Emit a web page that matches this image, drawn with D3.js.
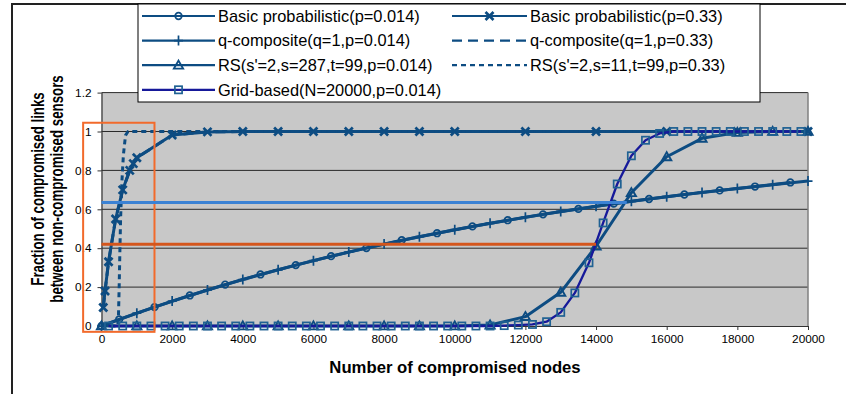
<!DOCTYPE html>
<html>
<head>
<meta charset="utf-8">
<script src="https://cdn.jsdelivr.net/npm/d3@7"></script>
<style>
  body { margin: 0; background: #fff; }
  svg { display: block; font-family: "Liberation Sans", Arial, sans-serif; }
</style>
</head>
<body>
<svg width="846" height="394"></svg>
<script>
// ---- data ----
const xTicks = [0, 2000, 4000, 6000, 8000, 10000, 12000, 14000, 16000, 18000, 20000];
const yTicks = [0, 0.2, 0.4, 0.6, 0.8, 1, 1.2];

// Basic probabilistic (p=0.014), circles
const basicLowX = [0, 500, 1500, 2500, 3500, 4500, 5500, 6500, 7500, 8500, 9500,
    10500, 11500, 12500, 13500, 14500, 15500, 16500, 17500, 18500, 19500];
const basicLowY = [0, 0.034, 0.097, 0.157, 0.213, 0.265, 0.313, 0.359, 0.401, 0.441, 0.477,
    0.512, 0.544, 0.574, 0.602, 0.629, 0.653, 0.676, 0.697, 0.717, 0.738];

// Basic probabilistic (p=0.33), crosses
const basicHighX = [50, 100, 200, 400, 600, 800, 900, 1000, 2000, 3000, 4000, 5000,
    6000, 7000, 8000, 9000, 10000, 12000, 14000, 16000, 18000, 20000];
const basicHighY = [0.095, 0.18, 0.33, 0.55, 0.7, 0.8, 0.835, 0.865, 0.982, 0.998, 1, 1,
    1, 1, 1, 1, 1, 1, 1, 1, 1, 1];

// q-composite (q=1, p=0.014), plus signs
const qLowX = [0, 1000, 2000, 3000, 4000, 5000, 6000, 7000, 8000, 9000, 10000,
    11000, 12000, 13000, 14000, 15000, 16000, 17000, 18000, 19000, 20000];
const qLowY = [0, 0.066, 0.128, 0.185, 0.239, 0.289, 0.336, 0.38, 0.421, 0.459, 0.495,
    0.528, 0.559, 0.589, 0.616, 0.641, 0.665, 0.687, 0.707, 0.726, 0.745];

// q-composite (q=1, p=0.33), long dashes, lies under the p=0.33 basic curve
const qHighX = [50, 100, 200, 400, 600, 800, 900, 1000, 2000, 3000, 4000, 10000, 20000];
const qHighY = [0.095, 0.18, 0.33, 0.55, 0.7, 0.8, 0.835, 0.865, 0.982, 0.998, 1, 1, 1];

// RS (s'=2, s=287, t=99, p=0.014), triangles
const rsLowX = [0, 1000, 2000, 3000, 4000, 5000, 6000, 7000, 8000, 9000, 10000,
    11000, 12000, 13000, 14000, 15000, 16000, 17000, 18000, 19000, 20000];
const rsLowY = [0, 0, 0, 0, 0, 0, 0, 0, 0, 0, 0,
    0.005, 0.048, 0.173, 0.41, 0.685, 0.87, 0.965, 0.995, 1, 1];

// RS (s'=2, s=11, t=99, p=0.33), short dashes
const rsHighX = [0, 200, 400, 460, 480, 500, 520, 540, 580, 620, 680, 750, 1000, 2000, 5000, 10000, 15000, 20000];
const rsHighY = [0, 0, 0, 0, 0.05, 0.2, 0.38, 0.55, 0.75, 0.88, 0.98, 1, 1, 1, 1, 1, 1, 1];

// Grid-based (N=20000, p=0.014), squares
const gridX = [200, 600, 1000, 1400, 1800, 2200, 2600, 3000, 3400, 3800, 4200, 4600, 5000,
    5400, 5800, 6200, 6600, 7000, 7400, 7800, 8200, 8600, 9000, 9400, 9800, 10200, 10600,
    11000, 11400, 11800, 12200, 12600, 13000, 13400, 13800, 14200, 14600, 15000, 15400,
    15800, 16200, 16600, 17000, 17400, 17800, 18200, 18600, 19000, 19400, 19800];
const gridY = [0, 0, 0, 0, 0, 0, 0, 0, 0, 0, 0, 0, 0,
    0, 0, 0, 0, 0, 0, 0, 0, 0, 0, 0, 0, 0, 0,
    0, 0.002, 0.005, 0.008, 0.022, 0.07, 0.17, 0.325, 0.53, 0.73, 0.875, 0.955,
    0.99, 1, 1, 1, 1, 1, 1, 1, 1, 1, 1];

// annotations drawn over the chart (data units)
const boxX = [-520, 1500];
const boxY = [-0.03, 1.045];
const orangeLine = [0, 14000, 0.42];
const blueLine = [0, 14870, 0.635];

// ---- layout ----
const plot = { left: 101.5, right: 808, top: 92.6, bottom: 326 };
const lineColor = "#0d4c82";
const gridColor = "#16199a";

const x = d3.scaleLinear().domain([0, 20000]).range([plot.left, plot.right]);
const y = d3.scaleLinear().domain([0, 1.2]).range([plot.bottom, plot.top]);

const series = [
    { name: "Basic probabilistic(p=0.014)", xs: basicLowX, ys: basicLowY, marker: "circle", dash: null, col: 0, row: 0 },
    { name: "Basic probabilistic(p=0.33)", xs: basicHighX, ys: basicHighY, marker: "x", dash: null, col: 1, row: 0 },
    { name: "q-composite(q=1,p=0.014)", xs: qLowX, ys: qLowY, marker: "plus", dash: null, col: 0, row: 1 },
    { name: "q-composite(q=1,p=0.33)", xs: qHighX, ys: qHighY, marker: null, dash: "10,6", col: 1, row: 1 },
    { name: "RS(s'=2,s=287,t=99,p=0.014)", xs: rsLowX, ys: rsLowY, marker: "triangle", dash: null, col: 0, row: 2 },
    { name: "RS(s'=2,s=11,t=99,p=0.33)", xs: rsHighX, ys: rsHighY, marker: null, dash: "5,4", col: 1, row: 2 },
    { name: "Grid-based(N=20000,p=0.014)", xs: gridX, ys: gridY, marker: "square", dash: null, col: 0, row: 3, grid: true },
];

const svg = d3.select("svg");

// plot area
svg.append("rect")
    .attr("x", plot.left).attr("y", plot.top)
    .attr("width", plot.right - plot.left).attr("height", plot.bottom - plot.top)
    .attr("fill", "#c8c8c8");

// horizontal gridlines
svg.append("g")
    .selectAll("line")
    .data(yTicks.filter((d) => d > 0))
    .join("line")
    .attr("x1", plot.left).attr("x2", plot.right)
    .attr("y1", (d) => y(d)).attr("y2", (d) => y(d))
    .attr("stroke", "#2a2a2a").attr("stroke-width", 1);

svg.append("line")
    .attr("x1", plot.right).attr("x2", plot.right)
    .attr("y1", plot.top).attr("y2", plot.bottom)
    .attr("stroke", "#808080").attr("stroke-width", 1.5);

// axes
const xAxis = svg.append("g")
    .attr("transform", `translate(0, ${plot.bottom})`)
    .call(d3.axisBottom(x).tickValues(xTicks).tickSize(4).tickSizeOuter(0).tickPadding(5).tickFormat(d3.format("d")));
const yAxis = svg.append("g")
    .attr("transform", `translate(${plot.left}, 0)`)
    .call(d3.axisLeft(y).tickValues(yTicks).tickSize(4).tickSizeOuter(0).tickPadding(6).tickFormat((d) => String(d)));

[xAxis, yAxis].forEach((a) => {
    a.selectAll("path").attr("stroke", "#333").attr("stroke-width", 1.2);
    a.selectAll("line").attr("stroke", "#333");
    a.selectAll("text").attr("fill", "#000").style("font-size", "11.8px")
        .style("font-family", "\"Liberation Sans\", Arial, sans-serif");
});

// marker shapes
function drawMarker(sel, type, color) {
    if (type === "circle") {
        sel.append("circle").attr("r", 3.3)
            .attr("fill", "none").attr("stroke", color).attr("stroke-width", 1.7);
    } else if (type === "square") {
        sel.append("rect").attr("x", -3.6).attr("y", -3.6).attr("width", 7.2).attr("height", 7.2)
            .attr("fill", "none").attr("stroke", color).attr("stroke-width", 1.7);
    } else if (type === "triangle") {
        sel.append("path").attr("d", "M0,-4.6L4.6,3.4L-4.6,3.4Z")
            .attr("fill", "none").attr("stroke", color).attr("stroke-width", 1.9);
    } else if (type === "x") {
        sel.append("path").attr("d", "M-4,-4L4,4M-4,4L4,-4")
            .attr("fill", "none").attr("stroke", color).attr("stroke-width", 2.7);
    } else if (type === "plus") {
        sel.append("path").attr("d", "M-4.5,0H4.5M0,-5V5")
            .attr("fill", "none").attr("stroke", color).attr("stroke-width", 1.7);
    }
}

// series lines
const line = d3.line().x((d) => x(d[0])).y((d) => y(d[1]));
series.forEach((s) => {
    const pts = s.xs.map((v, i) => [v, s.ys[i]]);
    svg.append("path")
        .datum(pts)
        .attr("d", line)
        .attr("fill", "none")
        .attr("stroke", s.grid ? gridColor : lineColor)
        .attr("stroke-width", s.grid ? 2.3 : 3)
        .attr("stroke-linejoin", "round")
        .attr("stroke-dasharray", s.dash);
    if (s.marker) {
        svg.append("g")
            .selectAll("g")
            .data(pts)
            .join("g")
            .attr("transform", (d) => `translate(${x(d[0])},${y(d[1])})`)
            .each(function () {
                drawMarker(d3.select(this), s.marker, s.grid ? "#1f6193" : lineColor);
            });
    }
});

// annotations
svg.append("rect")
    .attr("x", x(boxX[0])).attr("y", y(boxY[1]))
    .attr("width", x(boxX[1]) - x(boxX[0])).attr("height", y(boxY[0]) - y(boxY[1]))
    .attr("fill", "none").attr("stroke", "#f26a2b").attr("stroke-width", 2);
svg.append("line")
    .attr("x1", x(orangeLine[0])).attr("x2", x(orangeLine[1]))
    .attr("y1", y(orangeLine[2])).attr("y2", y(orangeLine[2]))
    .attr("stroke", "#d5561c").attr("stroke-width", 3);
svg.append("line")
    .attr("x1", x(blueLine[0])).attr("x2", x(blueLine[1]))
    .attr("y1", y(blueLine[2])).attr("y2", y(blueLine[2]))
    .attr("stroke", "#3b82d4").attr("stroke-width", 3);

// axis titles
svg.append("text")
    .attr("x", 455).attr("y", 373)
    .attr("text-anchor", "middle")
    .style("font-size", "16.7px").style("font-weight", "bold")
    .text("Number of compromised nodes");
const yTitle = svg.append("text")
    .attr("transform", "translate(0, 189) rotate(-90) scale(0.76, 1)")
    .attr("text-anchor", "middle")
    .style("font-size", "17.5px").style("font-weight", "bold");
yTitle.append("tspan").attr("x", 0).attr("y", 44.5).text("Fraction of compromised links");
yTitle.append("tspan").attr("x", 0).attr("y", 63.5).text("between non-compromised sensors");

// chart frame
svg.append("path")
    .attr("d", "M12,394V4H846")
    .attr("fill", "none").attr("stroke", "#222").attr("stroke-width", 2);

// legend
const legend = svg.append("g");
legend.append("rect")
    .attr("x", 138).attr("y", 4).attr("width", 622).attr("height", 98)
    .attr("fill", "#fff").attr("stroke", "#000").attr("stroke-width", 1);
const colX = [[142, 215], [452, 527]];
series.forEach((s) => {
    const [x0, x1] = colX[s.col];
    const ly = 16 + s.row * 24.6;
    const g = legend.append("g");
    g.append("line")
        .attr("x1", x0).attr("x2", x1).attr("y1", ly).attr("y2", ly)
        .attr("stroke", s.grid ? gridColor : lineColor)
        .attr("stroke-width", 2.2)
        .attr("stroke-dasharray", s.dash);
    if (s.marker) {
        const m = g.append("g").attr("transform", `translate(${(x0 + x1) / 2},${ly})`);
        drawMarker(m, s.marker, s.grid ? "#1f6193" : lineColor);
    }
    g.append("text")
        .attr("x", x1 + 3).attr("y", ly + 5.8)
        .style("font-size", "16.4px")
        .text(s.name);
});
</script>
</body>
</html>
